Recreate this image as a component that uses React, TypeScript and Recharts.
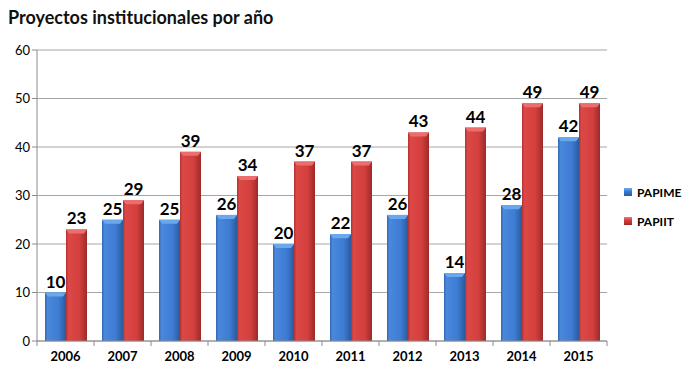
import { Bar, BarChart, CartesianGrid, LabelList, XAxis, YAxis } from "recharts";

const years = ["2006", "2007", "2008", "2009", "2010", "2011", "2012", "2013", "2014", "2015"];
const papime = [10, 25, 25, 26, 20, 22, 26, 14, 28, 42];
const papiit = [23, 29, 39, 34, 37, 37, 43, 44, 49, 49];
const yTicks = [0, 10, 20, 30, 40, 50, 60];

const data = years.map((year, i) => ({ year, PAPIME: papime[i], PAPIIT: papiit[i] }));

const FONT = "Lato, 'Open Sans', sans-serif";
const BAND = 57;

function BevelBar(props: any) {
  const { x, y, width, height, fill, top } = props;
  if (!height || height <= 0) return null;
  const cap = Math.min(4, height);
  return (
    <g>
      <rect x={x} y={y} width={width} height={height} fill={fill} />
      <polygon
        points={`${x},${y} ${x + width},${y} ${x + width - 3},${y + cap} ${x + 3},${y + cap}`}
        fill={top}
      />
    </g>
  );
}

function YearTick(props: any) {
  const { x, y, payload, index } = props;
  const last = index === years.length - 1;
  return (
    <g>
      <line x1={x - BAND / 2} y1={y - 8} x2={x - BAND / 2} y2={y - 3} stroke="#8c8c8c" />
      {last && <line x1={x + BAND / 2} y1={y - 8} x2={x + BAND / 2} y2={y - 3} stroke="#8c8c8c" />}
      <text x={x} y={y + 12} textAnchor="middle" fontFamily={FONT} fontSize={13} fontWeight={700} fill="#000">
        {payload.value}
      </text>
    </g>
  );
}

const labelStyle = { fontFamily: FONT, fontSize: 17, fontWeight: 700, fill: "#000" };

export default function App() {
  return (
    <div style={{ position: "absolute", left: 0, top: 0, width: 700, height: 378, background: "#fff" }}>
      <div
        style={{
          position: "absolute",
          left: 8,
          top: 6,
          fontFamily: FONT,
          fontSize: 18,
          fontWeight: 700,
          color: "#111",
        }}
      >
        Proyectos institucionales por año
      </div>
      <BarChart
        width={700}
        height={378}
        data={data}
        margin={{ top: 50, right: 93, left: 0, bottom: 0 }}
        barCategoryGap={8}
        barGap={0}
      >
        <defs>
          <linearGradient id="gBlue" x1="0" y1="0" x2="1" y2="0">
            <stop offset="0%" stopColor="#3467b3" />
            <stop offset="12%" stopColor="#4a88db" />
            <stop offset="65%" stopColor="#3d7cd3" />
            <stop offset="100%" stopColor="#2b5a9c" />
          </linearGradient>
          <linearGradient id="gRed" x1="0" y1="0" x2="1" y2="0">
            <stop offset="0%" stopColor="#b13230" />
            <stop offset="12%" stopColor="#dc4846" />
            <stop offset="65%" stopColor="#d33f3d" />
            <stop offset="100%" stopColor="#9b2b29" />
          </linearGradient>
        </defs>
        <CartesianGrid vertical={false} stroke="#a6a6a6" />
        <XAxis
          dataKey="year"
          height={37}
          tick={<YearTick />}
          tickLine={false}
          axisLine={{ stroke: "#8c8c8c" }}
          interval={0}
        />
        <YAxis
          width={37}
          domain={[0, 60]}
          ticks={yTicks}
          tick={{ fontFamily: FONT, fontSize: 13, fill: "#000" }}
          tickSize={5}
          tickLine={{ stroke: "#8c8c8c" }}
          axisLine={{ stroke: "#8c8c8c" }}
        />
        <Bar
          dataKey="PAPIME"
          fill="url(#gBlue)"
          isAnimationActive={false}
          shape={(p: any) => <BevelBar {...p} fill="url(#gBlue)" top="#6aa8ee" />}
        >
          <LabelList dataKey="PAPIME" position="top" offset={5} style={labelStyle} />
        </Bar>
        <Bar
          dataKey="PAPIIT"
          fill="url(#gRed)"
          isAnimationActive={false}
          shape={(p: any) => <BevelBar {...p} fill="url(#gRed)" top="#ec6e6c" />}
        >
          <LabelList dataKey="PAPIIT" position="top" offset={5} style={labelStyle} />
        </Bar>
      </BarChart>
      <div style={{ position: "absolute", left: 624, top: 184, fontFamily: FONT, fontSize: 12, fontWeight: 700 }}>
        <div style={{ display: "flex", alignItems: "center", gap: 5, height: 16 }}>
          <span style={{ width: 8, height: 8, background: "linear-gradient(#6fb0f0, #3d7cd3 40%, #2b5a9c)" }} />
          PAPIME
        </div>
        <div style={{ display: "flex", alignItems: "center", gap: 5, height: 16, marginTop: 13 }}>
          <span style={{ width: 8, height: 8, background: "linear-gradient(#f07a78, #d33f3d 40%, #9b2b29)" }} />
          PAPIIT
        </div>
      </div>
    </div>
  );
}
